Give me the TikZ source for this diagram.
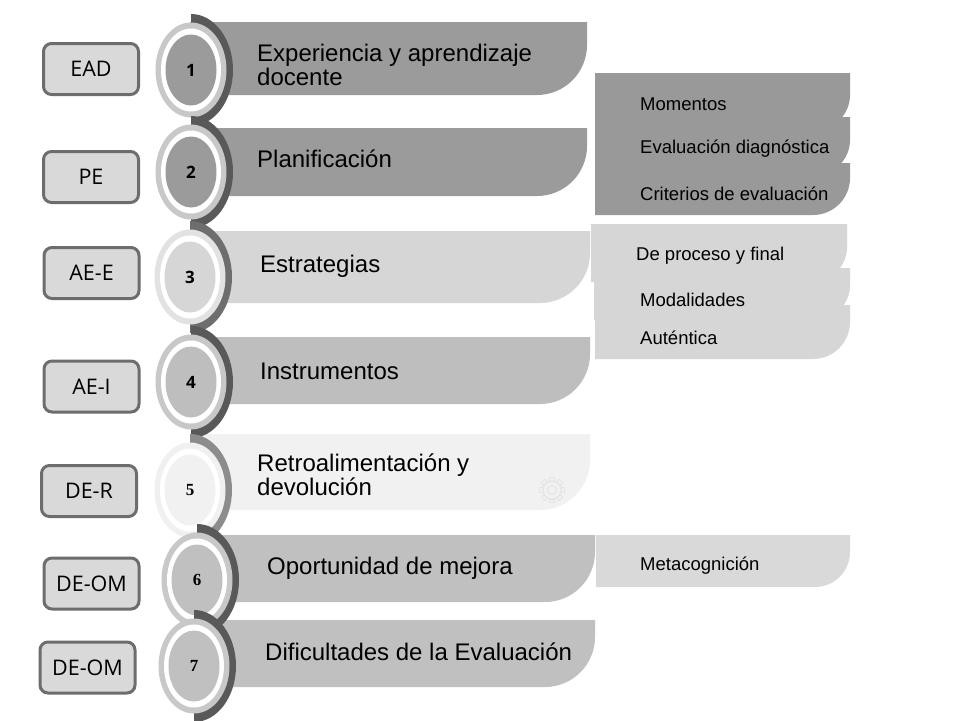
\documentclass[tikz,border=0pt]{standalone}
\usepackage{fontspec}
\setmainfont{Liberation Sans}
\newfontfamily\opensans{Open Sans}
\newfontfamily\timesnum{Liberation Serif}
\definecolor{bardark}{HTML}{9B9B9B}
\definecolor{barlight}{HTML}{D6D6D6}
\definecolor{barmid}{HTML}{BEBEBE}
\definecolor{barpale}{HTML}{F1F1F1}
\definecolor{barsix}{HTML}{C0C0C0}
\definecolor{cresdark}{HTML}{595959}
\definecolor{cresmid}{HTML}{6E6E6E}
\definecolor{creslight}{HTML}{8C8C8C}
\definecolor{ringgray}{HTML}{C8C8C8}
\definecolor{ringlight}{HTML}{E2E2E2}
\definecolor{ringpale}{HTML}{F0F0F0}
\definecolor{subdark}{HTML}{999999}
\definecolor{sublight}{HTML}{D6D6D6}
\definecolor{subpale}{HTML}{D9D9D9}
\definecolor{boxfill}{HTML}{D9D9D9}
\definecolor{boxedge}{HTML}{6D6D6D}
\definecolor{gearc}{HTML}{E4E4E4}
\newcommand\tabbar[6]{\fill[#6] (#1,#2) -- (#3,#2) -- (#3,{#4-#5}) arc[start angle=0,end angle=90,radius=#5] -- (#1,#4) -- cycle;}
\newcommand\numdisk[8]{%
  \fill[#4] (#2,{#3-56}) arc[start angle=-90,end angle=90,x radius=42,y radius=56] -- cycle;
  \fill[#5] (#2,#3) ellipse[x radius=35.5,y radius=47.5];
  \fill[white] (#2,#3) ellipse[x radius=30,y radius=41.5];
  \fill[#6] (#2,#3) ellipse[x radius=25.5,y radius=35.5];
  \node[numlbl,font=#7] (#1) at (#2,#3) {#8};
}
\tikzset{
  sidebox/.style={draw=boxedge, fill=boxfill, line width=3pt, rounded corners=8pt,
    minimum width=95pt, minimum height=51pt, inner sep=0pt,
    font=\opensans\fontsize{21.5}{23}\selectfont},
  numlbl/.style={inner sep=0pt},
  bartext/.style={anchor=west, inner sep=0pt, align=left,
    font=\fontsize{24}{24}\selectfont},
  subtext/.style={anchor=west, inner sep=0pt, font=\fontsize{18.5}{20}\selectfont}
}
\begin{document}
\begin{tikzpicture}[x=1pt,y=-1pt]
\useasboundingbox (0,0) rectangle (960,720);
\fill[white] (0,0) rectangle (960,720);
% main bars
\tabbar{190}{22}{587}{95}{50}{bardark}
\tabbar{190}{128}{587}{196}{50}{bardark}
\tabbar{190}{231}{590}{303}{50}{barlight}
\tabbar{190}{337}{590}{404}{50}{barmid}
\tabbar{190}{434}{590}{510}{50}{barpale}
\tabbar{196}{535}{595}{602}{50}{barsix}
\tabbar{193}{620}{595}{687}{50}{barsix}
% faint gear
\begin{scope}[gearc]
  \foreach \a in {0,45,...,315}
    \draw[line width=0.8pt, rotate around={\a:(552,490)}] (549.5,477.5) rectangle (554.5,481);
  \fill[barpale] (552,490) circle[radius=9];
  \draw[line width=1pt] (552,490) circle[radius=9];
  \draw[line width=1pt] (552,490) circle[radius=4.5];
\end{scope}
% sub shapes group A
\tabbar{595}{73}{850}{130}{35}{subdark}
\tabbar{595}{117}{850}{175}{35}{subdark}
\tabbar{595}{163}{850}{215}{37}{subdark}
% group B
\tabbar{591}{224}{847}{282}{35}{sublight}
\tabbar{594}{268}{850}{320}{35}{sublight}
\tabbar{595}{305}{850}{359}{37}{sublight}
% group C
\tabbar{596}{535}{850}{587}{35}{subpale}
% circles
\numdisk{n1}{191}{70}{cresdark}{ringgray}{bardark}{\opensans\bfseries\fontsize{17}{17}\selectfont}{1}
\numdisk{n2}{191}{172}{cresdark}{ringgray}{bardark}{\opensans\bfseries\fontsize{17}{17}\selectfont}{2}
\numdisk{n3}{190}{277}{cresmid}{ringlight}{barlight}{\opensans\bfseries\fontsize{17}{17}\selectfont}{3}
\numdisk{n4}{191}{382}{cresdark}{ringgray}{barmid}{\opensans\bfseries\fontsize{17}{17}\selectfont}{4}
\numdisk{n5}{190}{490}{creslight}{ringpale}{barpale}{\timesnum\bfseries\fontsize{17}{17}\selectfont}{5}
\numdisk{n6}{197}{580}{cresdark}{ringgray}{barsix}{\timesnum\bfseries\fontsize{17}{17}\selectfont}{6}
\numdisk{n7}{194}{666}{cresdark}{ringgray}{barsix}{\timesnum\bfseries\fontsize{17}{17}\selectfont}{7}
% bar texts
\node[bartext] (t1) at (257,65) {Experiencia y aprendizaje\\docente};
\node[bartext] (t2) at (257,159) {Planificación};
\node[bartext] (t3) at (260,266) {Estrategias};
\node[bartext] (t4) at (260,371) {Instrumentos};
\node[bartext] (t5) at (257,475) {Retroalimentación y\\devolución};
\node[bartext] (t6) at (267,568) {Oportunidad de mejora};
\node[bartext] (t7) at (265,652) {Dificultades de la Evaluación};
% sub texts
\node[subtext] (s1) at (640,104) {Momentos};
\node[subtext] (s2) at (640,149) {Evaluación diagnóstica};
\node[subtext] (s3) at (640,194) {Criterios de evaluación};
\node[subtext] (s4) at (636,256) {De proceso y final};
\node[subtext] (s5) at (640,300) {Modalidades};
\node[subtext] (s6) at (640,338) {Auténtica};
\node[subtext] (s7) at (640,566) {Metacognición};
% left boxes
\node[sidebox] (ead) at (91,69) {EAD};
\node[sidebox] (pe) at (91,177) {PE};
\node[sidebox] (aee) at (91.5,273) {AE-E};
\node[sidebox] (aei) at (91.5,386.5) {AE-I};
\node[sidebox] (der) at (89,491) {DE-R};
\node[sidebox] (deom) at (91.5,583.5) {DE-OM};
\node[sidebox] (deomb) at (87.5,667.5) {DE-OM};
\end{tikzpicture}
\end{document}
